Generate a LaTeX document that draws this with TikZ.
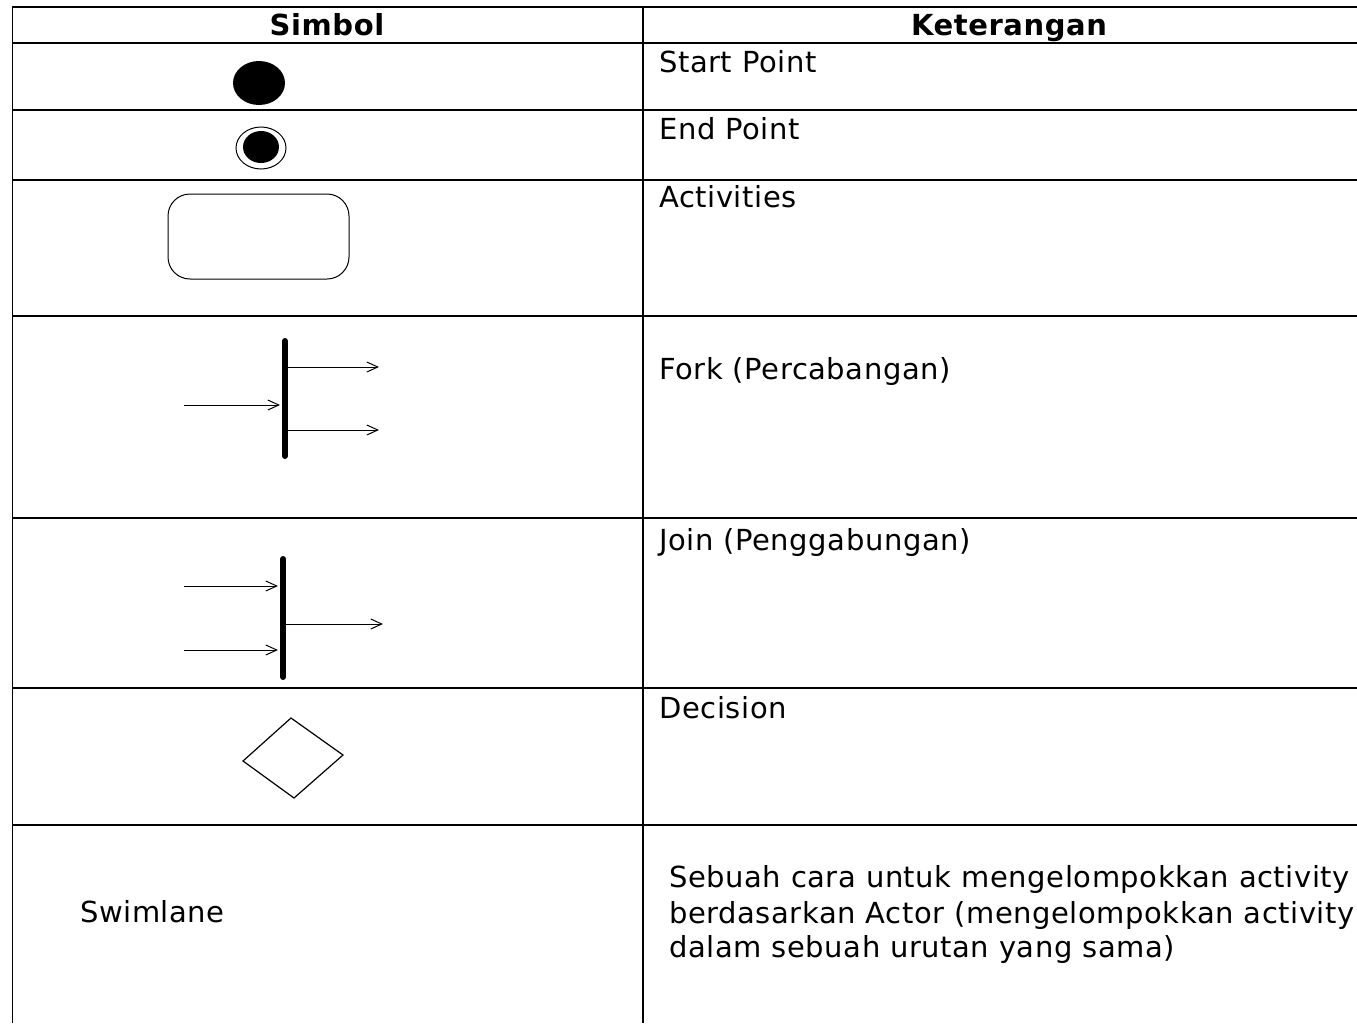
\documentclass[tikz,border=0pt]{standalone}
\usepackage{fontspec}
\setmainfont{DejaVu Sans}[LetterSpace=2]
\usetikzlibrary{arrows.meta}

\tikzset{
  rowline/.style={line width=1.5pt},
  colline/.style={line width=2pt},
  txt/.style={anchor=base west, inner sep=0pt, font=\fontsize{29}{35}\selectfont},
  head/.style={anchor=base, inner sep=0pt, font=\fontsize{29}{35}\selectfont\bfseries},
  flow/.style={line width=1pt, -{Straight Barb[length=11pt,width=10pt]}},
  bar/.style={line width=6pt, line cap=round}
}

\begin{document}
\begin{tikzpicture}[x=1pt,y=-1pt]
	\useasboundingbox (0,0) rectangle (1357,1023);

	%TABLE
	\draw[line width=1pt] (12,7) -- (12,1023);
	\draw[colline] (643,7) -- (643,1023);
	\draw[line width=1.2pt] (12,7) -- (1357,7);
	\foreach \y in {43,110,180,316,518,688,825}
		\draw[rowline] (12,\y) -- (1357,\y);

	%HEADER
	\node[head] (simbol) at (327,35) {Simbol};
	\node[head] (ket) at (1009,35) {Keterangan};

	%START POINT
	\fill (259,83) ellipse (26 and 22);
	\node[txt] (start) at (659,72) {Start Point};

	%END POINT
	\draw[line width=1pt] (261,148) ellipse (25 and 21);
	\fill (261,147) ellipse (18 and 16);
	\node[txt] (end) at (659,139) {End Point};

	%ACTIVITIES
	\draw[line width=1pt, rounded corners=22pt] (168,194) rectangle (349,279);
	\node[txt] (act) at (659,207) {Activities};

	%FORK
	\coordinate (f1) at (285,341);
	\coordinate (f2) at (285,456);
	\draw[bar] (f1) -- (f2);
	\coordinate (fin) at (184,405);
	\coordinate (fa) at (288,367);
	\coordinate (fb) at (288,430);
	\draw[flow] (fin) -- (280,405);
	\draw[flow] (fa) -- (379,367);
	\draw[flow] (fb) -- (379,430);
	\node[txt] (fork) at (659,379) {Fork (Percabangan)};

	%JOIN
	\coordinate (j1) at (283,559);
	\coordinate (j2) at (283,677);
	\draw[bar] (j1) -- (j2);
	\coordinate (ja) at (184,586);
	\coordinate (jb) at (184,650);
	\coordinate (jout) at (286,624);
	\draw[flow] (ja) -- (278,586);
	\draw[flow] (jb) -- (278,650);
	\draw[flow] (jout) -- (383,624);
	\node[txt] (join) at (659,550) {Join (Penggabungan)};

	%DECISION
	\draw[line width=1.2pt] (291,718) -- (343,755) -- (294,798) -- (243,761) -- cycle;
	\node[txt] (dec) at (659,718) {Decision};

	%SWIMLANE
	\node[txt] (swim) at (80,922) {Swimlane};
	\node[txt] (sw1) at (669,887) {Sebuah cara untuk mengelompokkan activity};
	\node[txt] (sw2) at (669,923) {berdasarkan Actor (mengelompokkan activity};
	\node[txt] (sw3) at (669,957) {dalam sebuah urutan yang sama)};

\end{tikzpicture}
\end{document}
